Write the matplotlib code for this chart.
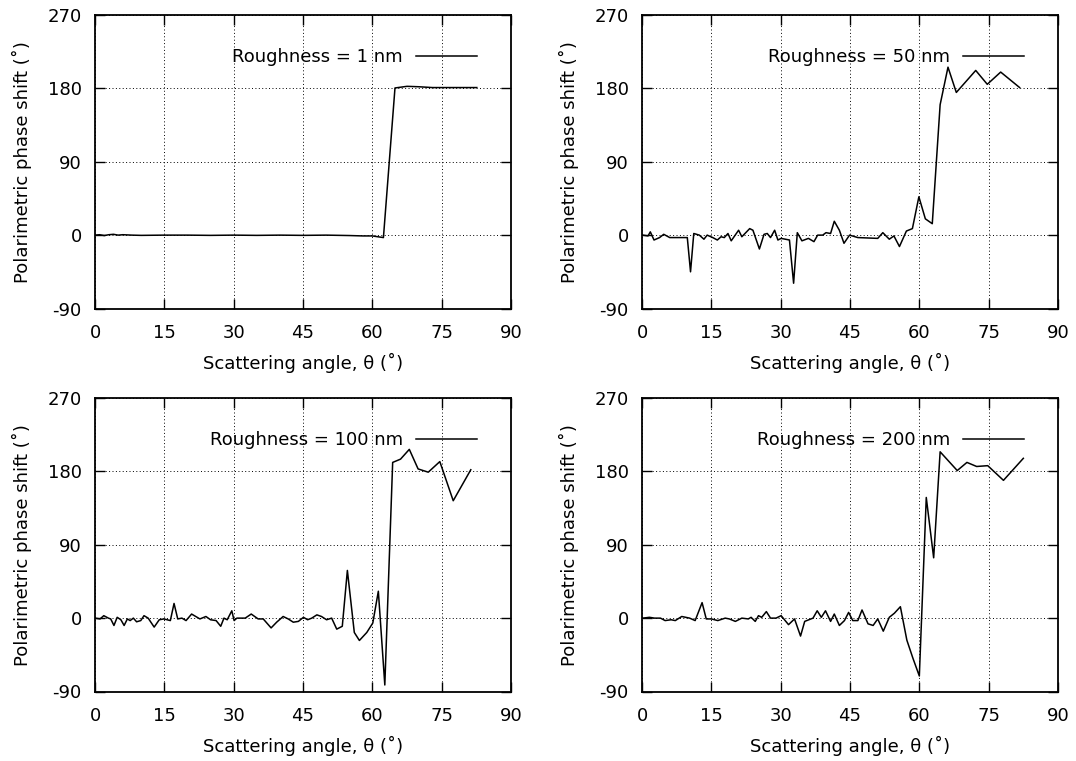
import matplotlib
matplotlib.use('Agg')
from matplotlib import pyplot as plt

plt.rcParams['font.family'] = ['DejaVu Sans']
plt.rcParams['font.size'] = 13
plt.rcParams['axes.unicode_minus'] = False

# roughness = 1 nm
x1 = [0, 1, 2, 3, 4, 5, 6, 8, 10, 15, 20, 25, 30, 35, 40, 45, 50, 55, 58, 60,
      62.4, 64.9, 67.5, 70, 73, 76, 79, 82.6]
y1 = [0, 0.5, -0.5, 0.5, 1, 0, 0.5, 0, -0.3, 0, 0, -0.3, 0, -0.3, 0, -0.3, 0, -0.5, -1, -1,
      -3, 180.5, 182.5, 182, 181, 181, 181, 181]

# roughness = 50 nm
x2 = [0.2, 1.3, 1.8, 2.6, 3.8, 4.7, 6.0, 9.8, 10.5, 11.2,
      12.4, 13.4, 14.1, 15.3, 16.3, 17.1, 17.8, 18.6, 19.3, 20.9,
      21.6, 23.3, 24.0, 25.4, 26.4, 27.1, 27.8, 28.7, 29.4, 30.1,
      31.9, 32.8, 33.6, 34.6, 36.0, 37.2, 38.0, 39.1, 39.8, 40.8,
      41.6, 42.7, 43.7, 44.9, 46.7, 51.0, 52.1, 53.5, 54.5, 55.7,
      57.2, 58.5, 59.9, 61.3, 62.8, 64.5, 66.2, 68.0, 72.2, 74.7,
      77.6, 81.7]
y2 = [0, -1, 4, -6, -3, 1, -3, -3, -45, 2,
      0, -5, 0, -3, -6, -2, -3, 2, -7, 6,
      -2, 8, 6, -17, 1, 2, -3, 6, -6, -4,
      -6, -59, 3, -7, -4, -8, 0, 0, 3, 2,
      17, 6, -10, 0, -3, -4, 3, -5, -1, -14,
      5, 8, 47, 20, 14, 160, 206, 175, 202, 185,
      200, 181]

# roughness = 100 nm
x3 = [0, 1.1, 1.9, 2.9, 3.4, 4.1, 4.8, 5.6, 6.3, 7.0,
      7.6, 8.3, 9.0, 9.9, 10.6, 11.5, 12.8, 13.9, 14.9, 16.3,
      17.1, 17.9, 18.8, 19.7, 20.9, 22.7, 24.0, 25.0, 26.2, 27.2,
      27.9, 28.6, 29.6, 30.1, 30.7, 32.5, 33.8, 35.3, 36.4, 38.1,
      39.3, 40.7, 41.8, 42.9, 44.0, 45.1, 46.0, 46.9, 48.0, 49.0,
      50.1, 51.2, 52.3, 53.5, 54.6, 56.1, 57.2, 58.8, 60.1, 61.3,
      62.7, 64.4, 66.1, 68.0, 69.9, 72.1, 74.6, 77.5, 81.3]
y3 = [0, -1, 3, 0, -1, -9, 1, -2, -9, -1,
      -3, 0, -4.5, -3, 3, 0, -11, -2, -1, -3,
      18, -1, 0, -3, 5, -1, 2, -2, -3, -10,
      0, -2, 9, -3, 0, 0, 5, -1, -1, -12,
      -5, 2, -1, -5, -4, 1, -2, 0, 4, 2,
      -2, 0, -13.5, -10, 58.5, -17.6, -27.4, -17.6, -6, 33,
      -82, 191, 195, 207, 183, 179, 192, 144, 182]

# roughness = 200 nm
x4 = [0.2, 1.6, 2.7, 4.0, 5.0, 6.3, 7.2, 8.6, 10.3, 11.5,
      13.0, 13.9, 15.0, 16.4, 18.0, 18.9, 20.2, 21.6, 23.0, 23.6,
      24.5, 25.2, 25.9, 26.9, 27.8, 29.0, 30.1, 31.7, 33.0, 34.3,
      35.2, 37.0, 37.9, 38.8, 39.7, 40.8, 41.6, 42.7, 43.8, 44.7,
      45.6, 46.7, 47.6, 48.9, 50.0, 51.0, 52.2, 53.5, 54.6, 55.9,
      57.3, 58.6, 60.0, 61.5, 63.1, 64.5, 68.2, 70.3, 72.4, 74.8,
      78.2, 82.5]
y4 = [0, 1, 0, 0, -3, -2, -3, 2, 0, -3,
      19, -1, -1, -3, 0, -1, -4, 0, -1, 1,
      -4, 3, 1, 8, 0, 0, 3, -8, -1, -22,
      -4, 0, 9, 1, 9, -4, 5, -9, -3, 7,
      -3, -3, 10, -7, -9, -1, -16, 1, 6, 14,
      -27, -49, -71, 148, 74, 204, 181, 191, 186, 187,
      169, 196]

labels = ['Roughness = 1 nm', 'Roughness = 50 nm',
          'Roughness = 100 nm', 'Roughness = 200 nm']
xticks = [0, 15, 30, 45, 60, 75, 90]
yticks = [-90, 0, 90, 180, 270]

W, H = 1076, 761
AW, AH = 416, 293.5
corners = [(95, 15), (642, 15), (95, 398), (642, 398)]

fig = plt.figure(figsize=(W / 100, H / 100), dpi=100)

for (x, y), label, (left, top) in zip([(x1, y1), (x2, y2), (x3, y3), (x4, y4)], labels, corners):
    ax = fig.add_axes([left / W, 1 - (top + AH) / H, AW / W, AH / H])
    ax.plot(x, y, color='black', lw=1.1, label=label)
    ax.set_xlim(0, 90)
    ax.set_ylim(-90, 270)
    ax.set_xticks(xticks)
    ax.set_yticks(yticks)
    ax.grid(True, color='black', linestyle=(0, (1, 2.5)), linewidth=0.7)
    ax.tick_params(direction='in', length=7, width=1, top=True, right=True)
    ax.tick_params(axis='x', pad=11)
    ax.tick_params(axis='y', pad=9.5)
    for s in ax.spines.values():
        s.set_linewidth(1.3)
    ax.set_xlabel('Scattering angle, θ (˚)', labelpad=8)
    ax.set_ylabel('Polarimetric phase shift (˚)', labelpad=11)
    ax.legend(loc='center right', bbox_to_anchor=(1 - 34 / AW, 1 - 42 / AH),
              frameon=False, markerfirst=False, handlelength=3.4,
              handletextpad=0.7, borderpad=0, borderaxespad=0)

fig.savefig('out.png', dpi=100)
